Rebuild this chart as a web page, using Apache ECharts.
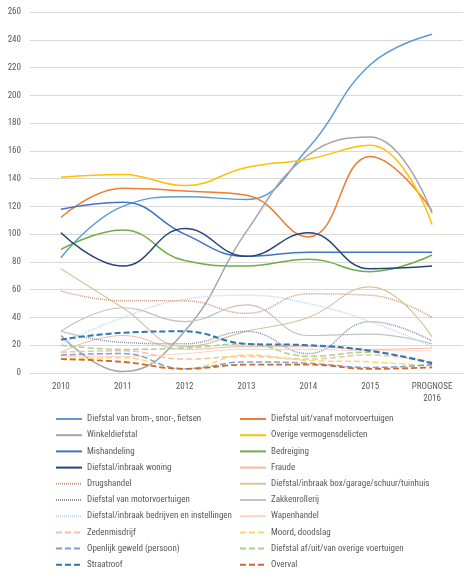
<!DOCTYPE html>
<html>
<head>
<meta charset="utf-8">
<script src="https://cdn.jsdelivr.net/npm/echarts@6/dist/echarts.min.js"></script>
<style>
  html, body { margin: 0; padding: 0; background: #fff; }
  #main { width: 474px; height: 579px; }
</style>
</head>
<body>
<div id="main"></div>
<script>
// categorieen
const years = ['2010', '2011', '2012', '2013', '2014', '2015', 'PROGNOSE\n2016'];

// waarden per delict
const bromSnorFietsen = [83, 120, 127, 125, 162, 222, 244];
const uitVanafMotorvoertuigen = [112, 133, 131, 128, 98, 156, 117];
const winkeldiefstal = [27, 1, 30, 102, 157, 170, 115];
const overigeVermogensdelicten = [141, 143, 135, 148, 154, 164, 107];
const mishandeling = [118, 123, 100, 84, 87, 87, 87];
const bedreiging = [89, 103, 81, 77, 82, 73, 85];
const inbraakWoning = [101, 77, 104, 84, 101, 75, 77];
const fraude = [15, 27, 17, 19, 19, 17, 18];
const drugshandel = [59, 52, 52, 43, 57, 56, 40];
const inbraakBox = [75, 47, 19, 30, 40, 62, 26];
const vanMotorvoertuigen = [30, 22, 21, 30, 14, 37, 23];
const zakkenrollerij = [30, 47, 37, 49, 27, 28, 21];
const inbraakBedrijven = [21, 40, 53, 56, 50, 37, 19];
const wapenhandel = [12, 12, 14, 17, 17, 16, 16];
const zedenmisdrijf = [15, 16, 10, 12, 10, 13, 8];
const moordDoodslag = [10, 11, 3, 13, 9, 8, 5];
const openlijkGeweld = [13, 14, 3, 8, 7, 4, 6];
const overigeVoertuigen = [20, 17, 18, 21, 12, 15, 7];
const straatroof = [24, 29, 30, 21, 20, 16, 7];
const overval = [10, 8, 3, 6, 6, 3, 4];

const yTicks = { min: 0, max: 260, interval: 20 };

// naam, data, kleur, lijntype, dikte
const defs = [
  ['Diefstal van brom-, snor-, fietsen', bromSnorFietsen, '#5B9BD5', 'solid', 1.5],
  ['Diefstal uit/vanaf motorvoertuigen', uitVanafMotorvoertuigen, '#ED7D31', 'solid', 1.5],
  ['Winkeldiefstal', winkeldiefstal, '#A5A5A5', 'solid', 1.5],
  ['Overige vermogensdelicten', overigeVermogensdelicten, '#FFC000', 'solid', 1.5],
  ['Mishandeling', mishandeling, '#4472C4', 'solid', 1.5],
  ['Bedreiging', bedreiging, '#70AD47', 'solid', 1.5],
  ['Diefstal/inbraak woning', inbraakWoning, '#264478', 'solid', 1.5],
  ['Fraude', fraude, '#F4B8A0', 'solid', 1],
  ['Drugshandel', drugshandel, '#C89B84', 'dotted', 1.5],
  ['Diefstal/inbraak box/garage/schuur/tuinhuis', inbraakBox, '#D6C49C', 'solid', 1.2],
  ['Diefstal van motorvoertuigen', vanMotorvoertuigen, '#8A94A8', 'dotted', 1.5],
  ['Zakkenrollerij', zakkenrollerij, '#C2C2C2', 'solid', 1.2],
  ['Diefstal/inbraak bedrijven en instellingen', inbraakBedrijven, '#BDD7EE', 'dotted', 1.5],
  ['Wapenhandel', wapenhandel, '#F8D5C0', 'solid', 1],
  ['Zedenmisdrijf', zedenmisdrijf, '#F4BFA6', 'dashed', 1.5],
  ['Moord, doodslag', moordDoodslag, '#FFD966', 'dashed', 1.5],
  ['Openlijk geweld (persoon)', openlijkGeweld, '#7F9ED6', 'dashed', 1.5],
  ['Diefstal af/uit/van overige voertuigen', overigeVoertuigen, '#A9D18E', 'dashed', 1.5],
  ['Straatroof', straatroof, '#2E75B6', 'dashed', 2],
  ['Overval', overval, '#CC6a30', 'dashed', 1.8]
];

const chart = echarts.init(document.getElementById('main'), null, { renderer: 'canvas' });
const fontFamily = "'Liberation Sans Narrow', 'Roboto Condensed', 'Liberation Sans', sans-serif";

const legendBase = {
  orient: 'vertical',
  top: 413,
  padding: 0,
  height: 166,
  itemWidth: 26,
  itemHeight: 12,
  itemGap: 4.2,
  itemStyle: { opacity: 0 },
  textStyle: { fontSize: 9, color: '#595959', fontFamily: fontFamily, lineHeight: 12 },
  selectedMode: false
};

const option = {
  backgroundColor: '#fff',
  animation: false,
  grid: { left: 30, right: 11, top: 12, bottom: 206 },
  legend: [
    Object.assign({}, legendBase, { left: 55, data: defs.filter((d, i) => i % 2 === 0).map(d => d[0]) }),
    Object.assign({}, legendBase, { left: 239, data: defs.filter((d, i) => i % 2 === 1).map(d => d[0]) })
  ],
  xAxis: {
    type: 'category',
    data: years,
    boundaryGap: true,
    axisLine: { lineStyle: { color: '#D9D9D9' } },
    axisTick: { show: false },
    axisLabel: { fontSize: 9, color: '#595959', fontFamily: fontFamily, margin: 8, lineHeight: 12 }
  },
  yAxis: {
    type: 'value',
    min: yTicks.min,
    max: yTicks.max,
    interval: yTicks.interval,
    axisLine: { show: false },
    axisTick: { show: false },
    axisLabel: { fontSize: 9, color: '#595959', fontFamily: fontFamily, margin: 9 },
    splitLine: { lineStyle: { color: '#D9D9D9' } }
  },
  series: defs.map(d => ({
    name: d[0],
    type: 'line',
    data: d[1],
    smooth: 0.45,
    symbol: 'none',
    itemStyle: { color: d[2] },
    lineStyle: {
      color: d[2],
      width: d[4],
      type: d[3] === 'dashed' ? [6, 3] : (d[3] === 'dotted' ? [1, 1] : 'solid')
    }
  }))
};

chart.setOption(option);
window.addEventListener('resize', function () {
  chart.resize();
});
</script>
</body>
</html>
